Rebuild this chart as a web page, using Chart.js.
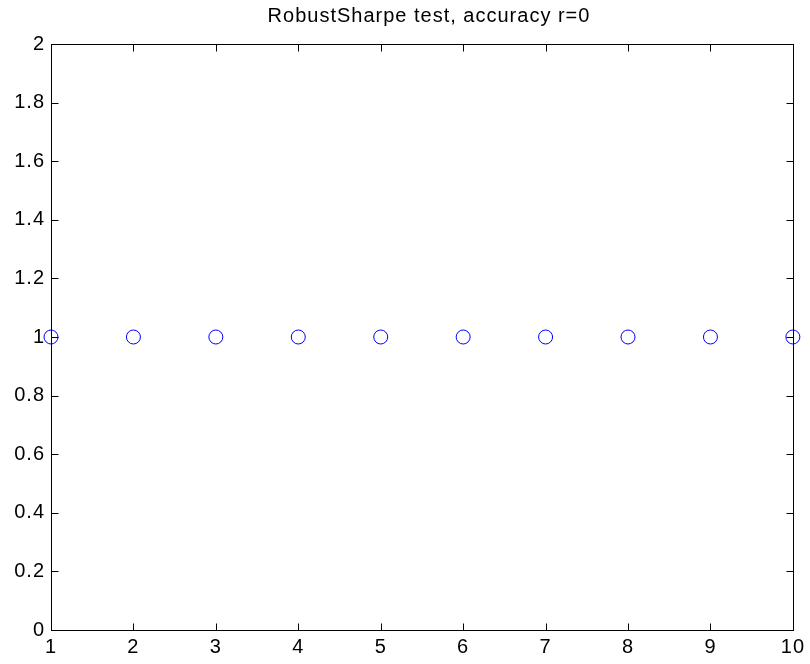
<!DOCTYPE html>
<html>
<head>
<meta charset="utf-8">
<title>RobustSharpe test</title>
<script src="https://cdn.jsdelivr.net/npm/chart.js@4.4.1/dist/chart.umd.min.js"></script>
<style>
  html, body { margin: 0; padding: 0; background: #fff; }
  #wrap { width: 810px; height: 664px; }
</style>
</head>
<body>
<div id="wrap"><canvas id="grafico"></canvas></div>
<script>
const titulo = "RobustSharpe test, accuracy r=0";
const xs = [1, 2, 3, 4, 5, 6, 7, 8, 9, 10];
const ys = [1, 1, 1, 1, 1, 1, 1, 1, 1, 1];
const xTicks = [1, 2, 3, 4, 5, 6, 7, 8, 9, 10];
const yTicks = [0, 0.2, 0.4, 0.6, 0.8, 1, 1.2, 1.4, 1.6, 1.8, 2];
const yTickLabels = ["0", "0.2", "0.4", "0.6", "0.8", "1", "1.2", "1.4", "1.6", "1.8", "2"];

const fuente = "Liberation Sans, Arial, Helvetica, sans-serif";
const espaciado = "1px";

// frame, inward tick marks on all four sides and the title
const marcoPlugin = {
  id: "marco",
  beforeLayout(chart) {
    chart.ctx.letterSpacing = espaciado;
  },
  beforeDraw(chart) {
    const ctx = chart.ctx;
    ctx.letterSpacing = espaciado;
    ctx.save();
    ctx.fillStyle = "#fff";
    ctx.fillRect(0, 0, chart.width, chart.height);
    ctx.restore();
  },
  afterDatasetsDraw(chart) {
    const ctx = chart.ctx;
    const a = chart.chartArea;
    const x = chart.scales.x, y = chart.scales.y;
    const largo = 7;
    const L = Math.round(a.left) + 0.5, R = Math.round(a.right) + 0.5;
    const T = Math.round(a.top) + 0.5, B = Math.round(a.bottom) + 0.5;
    ctx.save();
    ctx.strokeStyle = "#000";
    ctx.lineWidth = 1;
    ctx.beginPath();
    xTicks.forEach(v => {
      const px = Math.round(x.getPixelForValue(v)) + 0.5;
      ctx.moveTo(px, B); ctx.lineTo(px, B - largo);
      ctx.moveTo(px, T); ctx.lineTo(px, T + largo);
    });
    yTicks.forEach(v => {
      const py = Math.round(y.getPixelForValue(v)) + 0.5;
      ctx.moveTo(L, py); ctx.lineTo(L + largo, py);
      ctx.moveTo(R, py); ctx.lineTo(R - largo, py);
    });
    ctx.stroke();
    ctx.strokeRect(L, T, R - L, B - T);

    ctx.letterSpacing = espaciado;
    ctx.fillStyle = "#000";
    ctx.font = "20px " + fuente;
    ctx.textAlign = "center";
    ctx.textBaseline = "alphabetic";
    ctx.fillText(titulo, 429, 22);
    ctx.restore();
  }
};

new Chart(document.getElementById("grafico"), {
  type: "scatter",
  data: {
    datasets: [{
      data: xs.map((v, i) => ({ x: v, y: ys[i] })),
      pointStyle: "circle",
      pointRadius: 7,
      pointHoverRadius: 7,
      pointBorderWidth: 1,
      pointBorderColor: "#0000ff",
      pointBackgroundColor: "rgba(0,0,0,0)",
      showLine: false,
      clip: false
    }]
  },
  options: {
    responsive: true,
    maintainAspectRatio: false,
    animation: false,
    events: [],
    layout: { padding: { top: 44, right: 17, left: 0, bottom: 0 } },
    plugins: {
      legend: { display: false },
      title: { display: false },
      tooltip: { enabled: false }
    },
    scales: {
      x: {
        type: "linear",
        min: 1,
        max: 10,
        afterBuildTicks(scale) { scale.ticks = xTicks.map(v => ({ value: v })); },
        afterFit(scale) { scale.height = 34; },
        grid: { display: false, drawTicks: false },
        border: { display: false },
        ticks: {
          color: "#000",
          font: { family: fuente, size: 20 },
          padding: 5,
          maxRotation: 0,
          autoSkip: false,
          callback: v => String(v)
        }
      },
      y: {
        type: "linear",
        min: 0,
        max: 2,
        afterBuildTicks(scale) { scale.ticks = yTicks.map(v => ({ value: v })); },
        afterFit(scale) { scale.width = 51; },
        grid: { display: false, drawTicks: false },
        border: { display: false },
        ticks: {
          color: "#000",
          font: { family: fuente, size: 20 },
          padding: 6,
          autoSkip: false,
          callback: (v, i) => yTickLabels[i]
        }
      }
    }
  },
  plugins: [marcoPlugin]
});
</script>
</body>
</html>
